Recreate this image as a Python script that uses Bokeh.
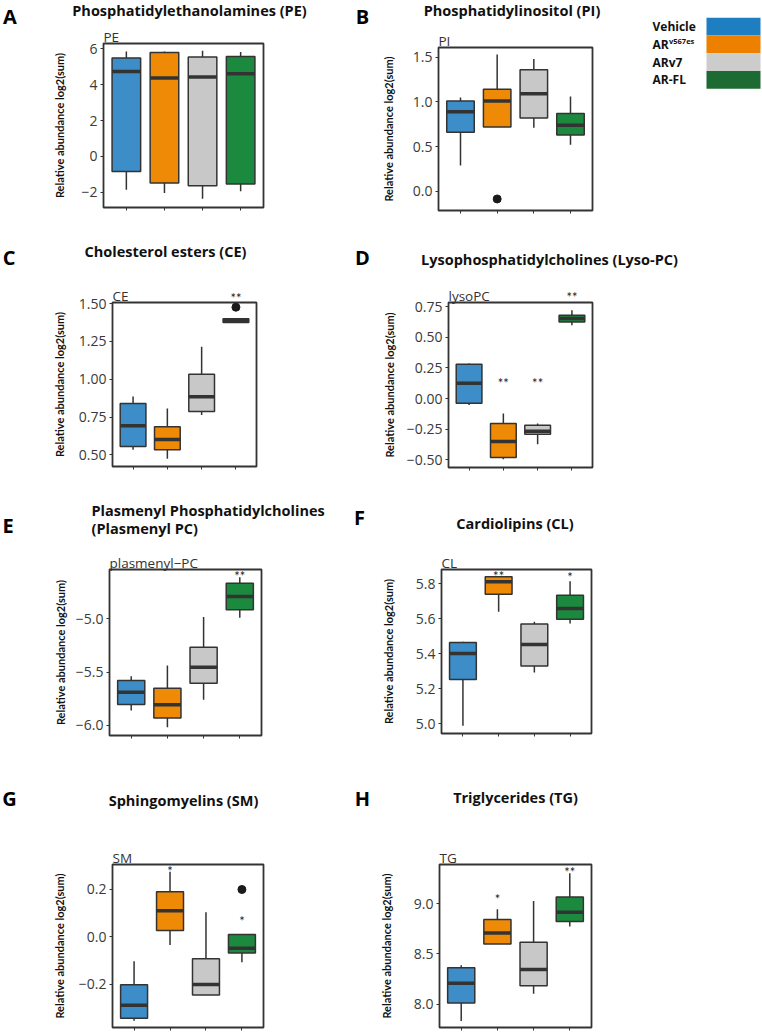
from bokeh.plotting import figure
from bokeh.layouts import column, row
from bokeh.models import (Range1d, FixedTicker, CustomJSTickFormatter, Label,
                          LabelSet, ColumnDataSource, CustomLabelingPolicy)
from bokeh.embed import file_html
from bokeh.resources import INLINE
from bokeh.core.properties import value

# ---------------- data ----------------
groups = ["Vehicle", "ARv567es", "ARv7", "AR-FL"]
box_colors = ["#3C8DC8", "#EE8A06", "#C8C8C8", "#1C8A3E"]
legend_colors = ["#1E7EC2", "#EE8000", "#CCCCCC", "#1D6B32"]

# A: Phosphatidylethanolamines (PE)
pe_lower = [-1.86, -2.04, -2.36, -1.95]
pe_q1 = [-0.84, -1.48, -1.63, -1.54]
pe_median = [4.74, 4.37, 4.43, 4.61]
pe_q3 = [5.49, 5.80, 5.54, 5.58]
pe_upper = [5.86, 5.86, 5.90, 5.82]
pe_ticks = [-2, 0, 2, 4, 6]

# B: Phosphatidylinositol (PI)
pi_lower = [0.29, 0.72, 0.71, 0.52]
pi_q1 = [0.66, 0.72, 0.82, 0.63]
pi_median = [0.89, 1.01, 1.09, 0.74]
pi_q3 = [1.01, 1.14, 1.36, 0.87]
pi_upper = [1.05, 1.53, 1.48, 1.06]
pi_out_group = ["ARv567es"]
pi_out_value = [-0.085]
pi_ticks = [0.0, 0.5, 1.0, 1.5]

# C: Cholesterol esters (CE)
ce_lower = [0.533, 0.474, 0.763, 1.375]
ce_q1 = [0.555, 0.533, 0.787, 1.375]
ce_median = [0.693, 0.601, 0.884, 1.388]
ce_q3 = [0.840, 0.686, 1.033, 1.399]
ce_upper = [0.886, 0.807, 1.215, 1.399]
ce_out_group = ["AR-FL"]
ce_out_value = [1.476]
ce_sig_group = ["AR-FL"]
ce_sig_text = ["**"]
ce_sig_y = [1.555]
ce_ticks = [0.5, 0.75, 1.0, 1.25, 1.5]

# D: Lysophosphatidylcholines (Lyso-PC)
lpc_lower = [-0.052, -0.495, -0.372, 0.598]
lpc_q1 = [-0.038, -0.481, -0.291, 0.625]
lpc_median = [0.125, -0.351, -0.266, 0.652]
lpc_q3 = [0.280, -0.204, -0.217, 0.679]
lpc_upper = [0.285, -0.122, -0.204, 0.720]
lpc_sig_group = ["ARv567es", "ARv7", "AR-FL"]
lpc_sig_text = ["**", "**", "**"]
lpc_sig_y = [0.149, 0.149, 0.856]
lpc_ticks = [-0.5, -0.25, 0.0, 0.25, 0.5, 0.75]

# E: Plasmenyl phosphatidylcholines
ppc_lower = [-5.859, -6.016, -5.759, -4.991]
ppc_q1 = [-5.803, -5.931, -5.603, -4.916]
ppc_median = [-5.688, -5.806, -5.453, -4.791]
ppc_q3 = [-5.578, -5.650, -5.266, -4.666]
ppc_upper = [-5.538, -5.438, -4.984, -4.609]
ppc_sig_group = ["AR-FL"]
ppc_sig_text = ["**"]
ppc_sig_y = [-4.569]
ppc_ticks = [-6.0, -5.5, -5.0]

# F: Cardiolipins (CL)
cl_lower = [4.987, 5.638, 5.291, 5.571]
cl_q1 = [5.251, 5.739, 5.328, 5.596]
cl_median = [5.400, 5.810, 5.451, 5.657]
cl_q3 = [5.463, 5.838, 5.568, 5.733]
cl_upper = [5.467, 5.838, 5.581, 5.813]
cl_sig_group = ["ARv567es", "AR-FL"]
cl_sig_text = ["**", "*"]
cl_sig_y = [5.861, 5.857]
cl_ticks = [5.0, 5.2, 5.4, 5.6, 5.8]

# G: Sphingomyelins (SM)
sm_lower = [-0.353, -0.034, -0.244, -0.107]
sm_q1 = [-0.342, 0.027, -0.244, -0.068]
sm_median = [-0.288, 0.110, -0.200, -0.048]
sm_q3 = [-0.201, 0.189, -0.092, 0.010]
sm_upper = [-0.103, 0.274, 0.103, 0.010]
sm_out_group = ["AR-FL"]
sm_out_value = [0.199]
sm_sig_group = ["ARv567es", "AR-FL"]
sm_sig_text = ["*", "*"]
sm_sig_y = [0.288, 0.078]
sm_ticks = [-0.2, 0.0, 0.2]

# H: Triglycerides (TG)
tg_lower = [7.835, 8.599, 8.104, 8.773]
tg_q1 = [8.013, 8.599, 8.184, 8.822]
tg_median = [8.210, 8.709, 8.346, 8.913]
tg_q3 = [8.362, 8.841, 8.615, 9.065]
tg_upper = [8.388, 8.945, 9.026, 9.301]
tg_sig_group = ["ARv567es", "AR-FL"]
tg_sig_text = ["*", "**"]
tg_sig_y = [9.074, 9.340]
tg_ticks = [8.0, 8.5, 9.0]

# ---------------- styling ----------------
FONT = "Open Sans"
FONT_AX = "Lato"
DARK = "#333333"
X_START, X_END = 0.4, 4.6
BOX_W = 0.75


def pos(names):
    return [groups.index(n) + 1 for n in names]


def no_align(p):
    try:
        p.frame_align = False
    except Exception:
        pass


def canvas_text(p, side, px, py, text, size, bold=False, align="center",
                baseline="middle", color="#111111"):
    p.add_layout(Label(x=px, y=py, x_units="canvas", y_units="canvas",
                       text=text, text_font=FONT, text_font_size=f"{size}px",
                       text_font_style="bold" if bold else "normal",
                       text_align=align, text_baseline=baseline,
                       text_color=color), side)


def panel(w, h, frame, yr, ticks, dec, lower, q1, med, q3, upper, sub,
          titles, letter, ylab_standoff, out=None, sig=None):
    fl, fr, ft, fb = frame  # frame left/right/top/bottom in canvas px
    p = figure(width=w, height=h, output_backend="svg", toolbar_location=None,
               x_range=Range1d(X_START, X_END), y_range=Range1d(*yr),
               min_border_left=fl, min_border_right=w - fr,
               min_border_top=ft, min_border_bottom=h - fb)
    no_align(p)
    p.background_fill_color = "white"
    p.border_fill_color = "white"
    p.grid.visible = False
    p.outline_line_color = DARK
    p.outline_line_width = 1.8

    xs = list(range(1, len(groups) + 1))
    p.segment(x0=xs, y0=q3, x1=xs, y1=upper, line_color=DARK, line_width=1.5)
    p.segment(x0=xs, y0=q1, x1=xs, y1=lower, line_color=DARK, line_width=1.5)
    p.vbar(x=xs, width=BOX_W, bottom=q1, top=q3, fill_color=box_colors,
           line_color=DARK, line_width=1.5)
    p.segment(x0=[x - BOX_W / 2 for x in xs], y0=med,
              x1=[x + BOX_W / 2 for x in xs], y1=med,
              line_color=DARK, line_width=3.5)
    if out is not None:
        p.scatter(x=pos(out[0]), y=out[1], size=8, color="#1a1a1a")
    if sig is not None:
        gx, gt, gy = pos(sig[0]), sig[1], sig[2]
        inside = [i for i in range(len(gx)) if gy[i] <= yr[1]]
        above = [i for i in range(len(gx)) if gy[i] > yr[1]]
        if inside:
            src = ColumnDataSource(dict(x=[gx[i] for i in inside],
                                        y=[gy[i] for i in inside],
                                        t=[gt[i] for i in inside]))
            p.add_layout(LabelSet(x="x", y="y", text="t", source=src,
                                  text_font=value(FONT_AX), text_font_size="13px",
                                  text_color="#222222", text_align="center",
                                  text_baseline="middle", y_offset=-3))
        for i in above:
            p.add_layout(Label(x=gx[i], y=gy[i], text=gt[i], text_font=FONT_AX,
                               text_font_size="13px", text_color="#222222",
                               text_align="center", text_baseline="middle",
                               y_offset=-3), "above")

    xa = p.xaxis[0]
    xa.ticker = FixedTicker(ticks=xs)
    xa.major_label_policy = CustomLabelingPolicy(code="return new Set()")
    xa.major_label_text_font_size = "1px"
    xa.major_label_standoff = 0
    xa.axis_line_color = None
    xa.major_tick_out = 3
    xa.major_tick_in = 0
    xa.major_tick_line_color = DARK
    xa.minor_tick_line_color = None

    ya = p.yaxis[0]
    ya.ticker = FixedTicker(ticks=ticks)
    ya.formatter = CustomJSTickFormatter(
        code="return tick.toFixed(%d).replace('-', '\u2212');" % dec)
    ya.axis_line_color = None
    ya.major_tick_out = 3
    ya.major_tick_in = 0
    ya.major_tick_line_color = DARK
    ya.minor_tick_line_color = None
    ya.major_label_standoff = 3
    ya.major_label_text_font = FONT
    ya.major_label_text_font_size = "14px"
    ya.major_label_text_color = "#3a3a3a"
    ya.axis_label = "Relative abundance log2(sum)"
    ya.axis_label_text_font = FONT_AX
    ya.axis_label_text_font_size = "11px"
    ya.axis_label_text_font_style = "bold"
    ya.axis_label_text_color = "#111111"
    ya.axis_label_standoff = ylab_standoff

    canvas_text(p, "above", fl, ft - 7, sub, 13.5, align="left",
                baseline="middle", color=DARK)
    for (tx, ty, txt, al) in titles:
        canvas_text(p, "above", tx, ty, txt, 14.5, bold=True, align=al)
    lx, ly, lt = letter
    canvas_text(p, "left", lx, ly, lt, 20, bold=True, color="#000000")
    return p


# column widths / row heights (canvas px)
W1, W2, WL = 348, 414, 126
W2B = W2 - WL
H1, H2, H3, H4 = 236, 256, 278, 264

pA = panel(W1, H1, (103, 263, 43, 207), (-2.85, 6.30), pe_ticks, 0,
           pe_lower, pe_q1, pe_median, pe_q3, pe_upper, "PE",
           [(189, 10, "Phosphatidylethanolamines (PE)", "center")],
           (9.5, 15.5, "A"), 12)
pB = panel(W2B, H1, (90, 244, 47, 210), (-0.214, 1.608), pi_ticks, 1,
           pi_lower, pi_q1, pi_median, pi_q3, pi_upper, "PI",
           [(163.5, 10, "Phosphatidylinositol (PI)", "center")],
           (14, 15.5, "B"), 15, out=(pi_out_group, pi_out_value))

# legend panel
leg = figure(width=WL, height=H1, output_backend="svg", toolbar_location=None,
             x_range=Range1d(0, WL), y_range=Range1d(H1, 0),
             x_axis_type=None, y_axis_type=None, min_border=0)
no_align(leg)
leg.grid.visible = False
leg.outline_line_color = None
LEG_TOP, LEG_ROW, LEG_BOX_L, LEG_BOX_R, LEG_TXT_X = 17.3, 17.75, 70, 124, 16
tops = [LEG_TOP + i * LEG_ROW for i in range(len(groups))]
leg.quad(left=LEG_BOX_L, right=LEG_BOX_R, top=tops,
         bottom=[t + LEG_ROW for t in tops],
         fill_color=legend_colors, line_color=None)
mids = [t + LEG_ROW / 2 for t in tops]
plain = [g if g != "ARv567es" else "AR" for g in groups]
leg.text(x=[LEG_TXT_X] * len(groups), y=mids, text=plain,
         text_font=value(FONT), text_font_size="12px", text_font_style="bold",
         text_color="#111111", text_baseline="middle", text_align="left")
leg.text(x=[LEG_TXT_X + 16.5], y=[mids[1] - 3.5], text=["v567es"],
         text_font=value(FONT), text_font_size="7.5px", text_font_style="bold",
         text_color="#111111", text_baseline="middle", text_align="left")

pC = panel(W1, H2, (112, 256, 66, 230), (0.423, 1.507), ce_ticks, 2,
           ce_lower, ce_q1, ce_median, ce_q3, ce_upper, "CE",
           [(165, 15, "Cholesterol esters (CE)", "center")],
           (8.5, 21, "C"), 10, out=(ce_out_group, ce_out_value),
           sig=(ce_sig_group, ce_sig_text, ce_sig_y))
pD = panel(W2, H2, (100, 244, 66, 231), (-0.5625, 0.783), lpc_ticks, 2,
           lpc_lower, lpc_q1, lpc_median, lpc_q3, lpc_upper, "lysoPC",
           [(201, 23, "Lysophosphatidylcholines (Lyso-PC)", "center")],
           (14, 21, "D"), 8, sig=(lpc_sig_group, lpc_sig_text, lpc_sig_y))

pE = panel(W1, H3, (109, 261, 77, 243), (-6.094, -4.5375), ppc_ticks, 1,
           ppc_lower, ppc_q1, ppc_median, ppc_q3, ppc_upper, "plasmenyl\u2212PC",
           [(91, 18, "Plasmenyl Phosphatidylcholines", "left"),
            (91, 36, "(Plasmenyl PC)", "left")],
           (7.5, 33, "E"), 6, sig=(ppc_sig_group, ppc_sig_text, ppc_sig_y))
pF = panel(W2, H3, (93, 243, 77, 241), (4.943, 5.88), cl_ticks, 1,
           cl_lower, cl_q1, cl_median, cl_q3, cl_upper, "CL",
           [(166.5, 31, "Cardiolipins (CL)", "center")],
           (11, 25, "F"), 18, sig=(cl_sig_group, cl_sig_text, cl_sig_y))

pG = panel(W1, H4, (112, 263, 94, 261), (-0.381, 0.304), sm_ticks, 1,
           sm_lower, sm_q1, sm_median, sm_q3, sm_upper, "SM",
           [(183, 30, "Sphingomyelins (SM)", "center")],
           (9, 28, "G"), 10, out=(sm_out_group, sm_out_value),
           sig=(sm_sig_group, sm_sig_text, sm_sig_y))
pH = panel(W2, H4, (91, 243, 94, 261), (7.77, 9.388), tg_ticks, 1,
           tg_lower, tg_q1, tg_median, tg_q3, tg_upper, "TG",
           [(167, 27, "Triglycerides (TG)", "center")],
           (14, 28, "H"), 18, sig=(tg_sig_group, tg_sig_text, tg_sig_y))

layout = column(row(pA, pB, leg), row(pC, pD), row(pE, pF), row(pG, pH))

with open("out.html", "w") as f:
    f.write(file_html(layout, INLINE))
